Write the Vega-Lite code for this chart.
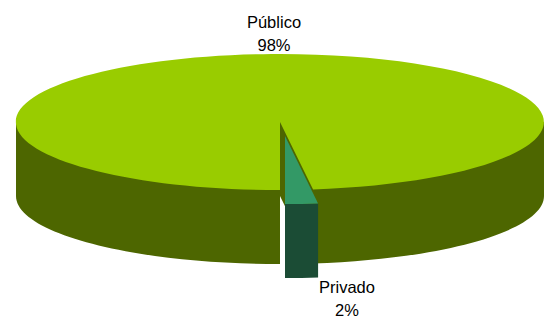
{
  "$schema": "https://vega.github.io/schema/vega-lite/v6.json",
  "width": 546,
  "height": 316,
  "padding": 0,
  "autosize": {"type": "none"},
  "config": {"view": {"stroke": null}},
  "data": {"values": [
    {"sector": "Público", "pct": 0.98},
    {"sector": "Privado", "pct": 0.02}
  ]},
  "layer": [
    {
      "mark": {"type": "point", "filled": true, "opacity": 1, "size": 4, "strokeWidth": 0},
      "encoding": {
        "shape": {"field": "sector", "type": "nominal", "legend": null,
          "scale": {"domain": ["Público", "Privado"], "range": [
            "M7,-36L271,-36L271,38A264,68,0,0,1,40.09,105.46L40.09,31.46ZM7,-36L40.09,31.46L40.09,105.46L7,38ZM7,-36L7,106A264,68,0,0,1,-257,38L-257,-36Z",
            "M45.09,45.46A264,68,0,0,1,12,46L12,120A264,68,0,0,0,45.09,119.46Z"
          ]}},
        "color": {"field": "sector", "type": "nominal", "legend": null,
          "scale": {"domain": ["Público", "Privado"], "range": ["#4D6600", "#1B4C35"]}}
      }
    },
    {
      "mark": {"type": "point", "filled": true, "opacity": 1, "size": 4, "strokeWidth": 0},
      "encoding": {
        "shape": {"field": "sector", "type": "nominal", "legend": null,
          "scale": {"domain": ["Público", "Privado"], "range": [
            "M7,-36L40.09,31.46A264,68,0,1,0,7,32Z",
            "M12,-22L45.09,45.46A264,68,0,0,1,12,46Z"
          ]}},
        "color": {"field": "sector", "type": "nominal", "legend": null,
          "scale": {"domain": ["Público", "Privado"], "range": ["#99CC00", "#339966"]}}
      }
    },
    {
      "mark": {"type": "text", "align": "center", "baseline": "alphabetic", "font": "Liberation Sans", "fontSize": 16.5, "color": "#000000"},
      "encoding": {
        "x": {"field": "sector", "type": "nominal", "axis": null, "scale": {"type": "point", "domain": ["Público", "Privado"], "range": [274, 347], "padding": 0}},
        "y": {"field": "sector", "type": "nominal", "axis": null, "scale": {"type": "point", "domain": ["Público", "Privado"], "range": [28, 293], "padding": 0}},
        "text": {"field": "sector", "type": "nominal"}
      }
    },
    {
      "mark": {"type": "text", "align": "center", "baseline": "alphabetic", "font": "Liberation Sans", "fontSize": 16.5, "color": "#000000", "dy": 23},
      "encoding": {
        "x": {"field": "sector", "type": "nominal", "axis": null},
        "y": {"field": "sector", "type": "nominal", "axis": null},
        "text": {"field": "pct", "type": "quantitative", "format": ".0%"}
      }
    }
  ],
  "resolve": {"scale": {"shape": "independent", "color": "independent"}}
}
